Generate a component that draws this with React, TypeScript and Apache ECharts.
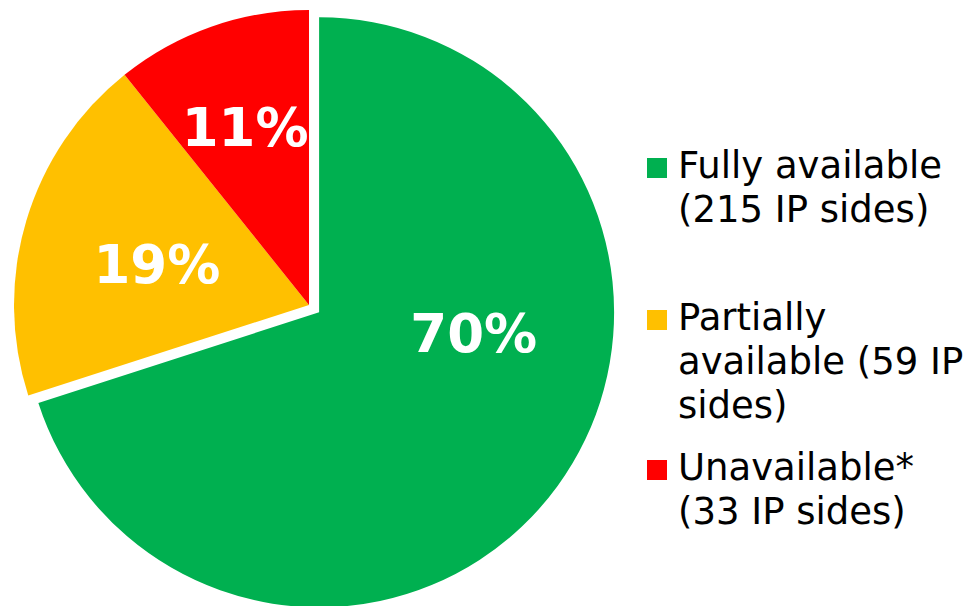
import React, { useEffect, useRef } from "react";
import * as echarts from "echarts";

const categories = ["Fully available", "Partially available", "Unavailable*"];
const ipSides = [215, 59, 33];
const legendLabels = [
  "Fully available\n(215 IP sides)",
  "Partially\navailable (59 IP\nsides)",
  "Unavailable*\n(33 IP sides)",
];
const colors = ["#00B050", "#FFC000", "#FF0000"];

// layout-only tweaks (label nudges, legend rows)
const labelNudges: [number, number][] = [
  [33, -67],
  [-8, 3],
  [-14, -36],
];
const legendTops = [143.5, 295.5, 445.5];

export default function App() {
  const ref = useRef<HTMLDivElement>(null);
  useEffect(() => {
    if (!ref.current) return;
    const chart = echarts.init(ref.current, undefined, { renderer: "svg" });
    const data = categories.map((name, i) => ({
      name,
      value: ipSides[i],
      selected: i === 0,
      itemStyle: { color: colors[i] },
      label: { offset: labelNudges[i] },
      select: { label: { offset: labelNudges[i], color: "#ffffff" }, itemStyle: { color: colors[i] } },
    }));
    const graphics: any[] = [];
    legendLabels.forEach((txt, i) => {
      graphics.push({
        type: "rect",
        x: 647,
        y: legendTops[i] + 14.5,
        shape: { x: 0, y: 0, width: 20, height: 20 },
        style: { fill: colors[i] },
        silent: true,
      });
      graphics.push({
        type: "text",
        x: 678,
        y: legendTops[i],
        style: {
          text: txt,
          fill: "#000000",
          fontSize: 37,
          fontFamily: "DejaVu Sans",
          lineHeight: 44,
          verticalAlign: "top",
          align: "left",
        },
        silent: true,
      });
    });
    chart.setOption({
      animation: false,
      backgroundColor: "#ffffff",
      series: [
        {
          type: "pie",
          center: [309, 305],
          radius: 295,
          startAngle: 90,
          clockwise: true,
          selectedMode: "single",
          selectedOffset: 12.5,
          avoidLabelOverlap: false,
          label: {
            show: true,
            position: "inside",
            color: "#ffffff",
            fontSize: 53,
            fontWeight: "bold",
            fontFamily: "DejaVu Sans",
            formatter: (p: any) => Math.round(p.percent) + "%",
          },
          labelLine: { show: false },
          itemStyle: { borderWidth: 0 },
          emphasis: { disabled: true },
          data,
        },
      ],
      graphic: graphics,
    });
    return () => chart.dispose();
  }, []);
  return (
    <div
      ref={ref}
      style={{ position: "fixed", left: 0, top: 0, width: 975, height: 606 }}
    />
  );
}
